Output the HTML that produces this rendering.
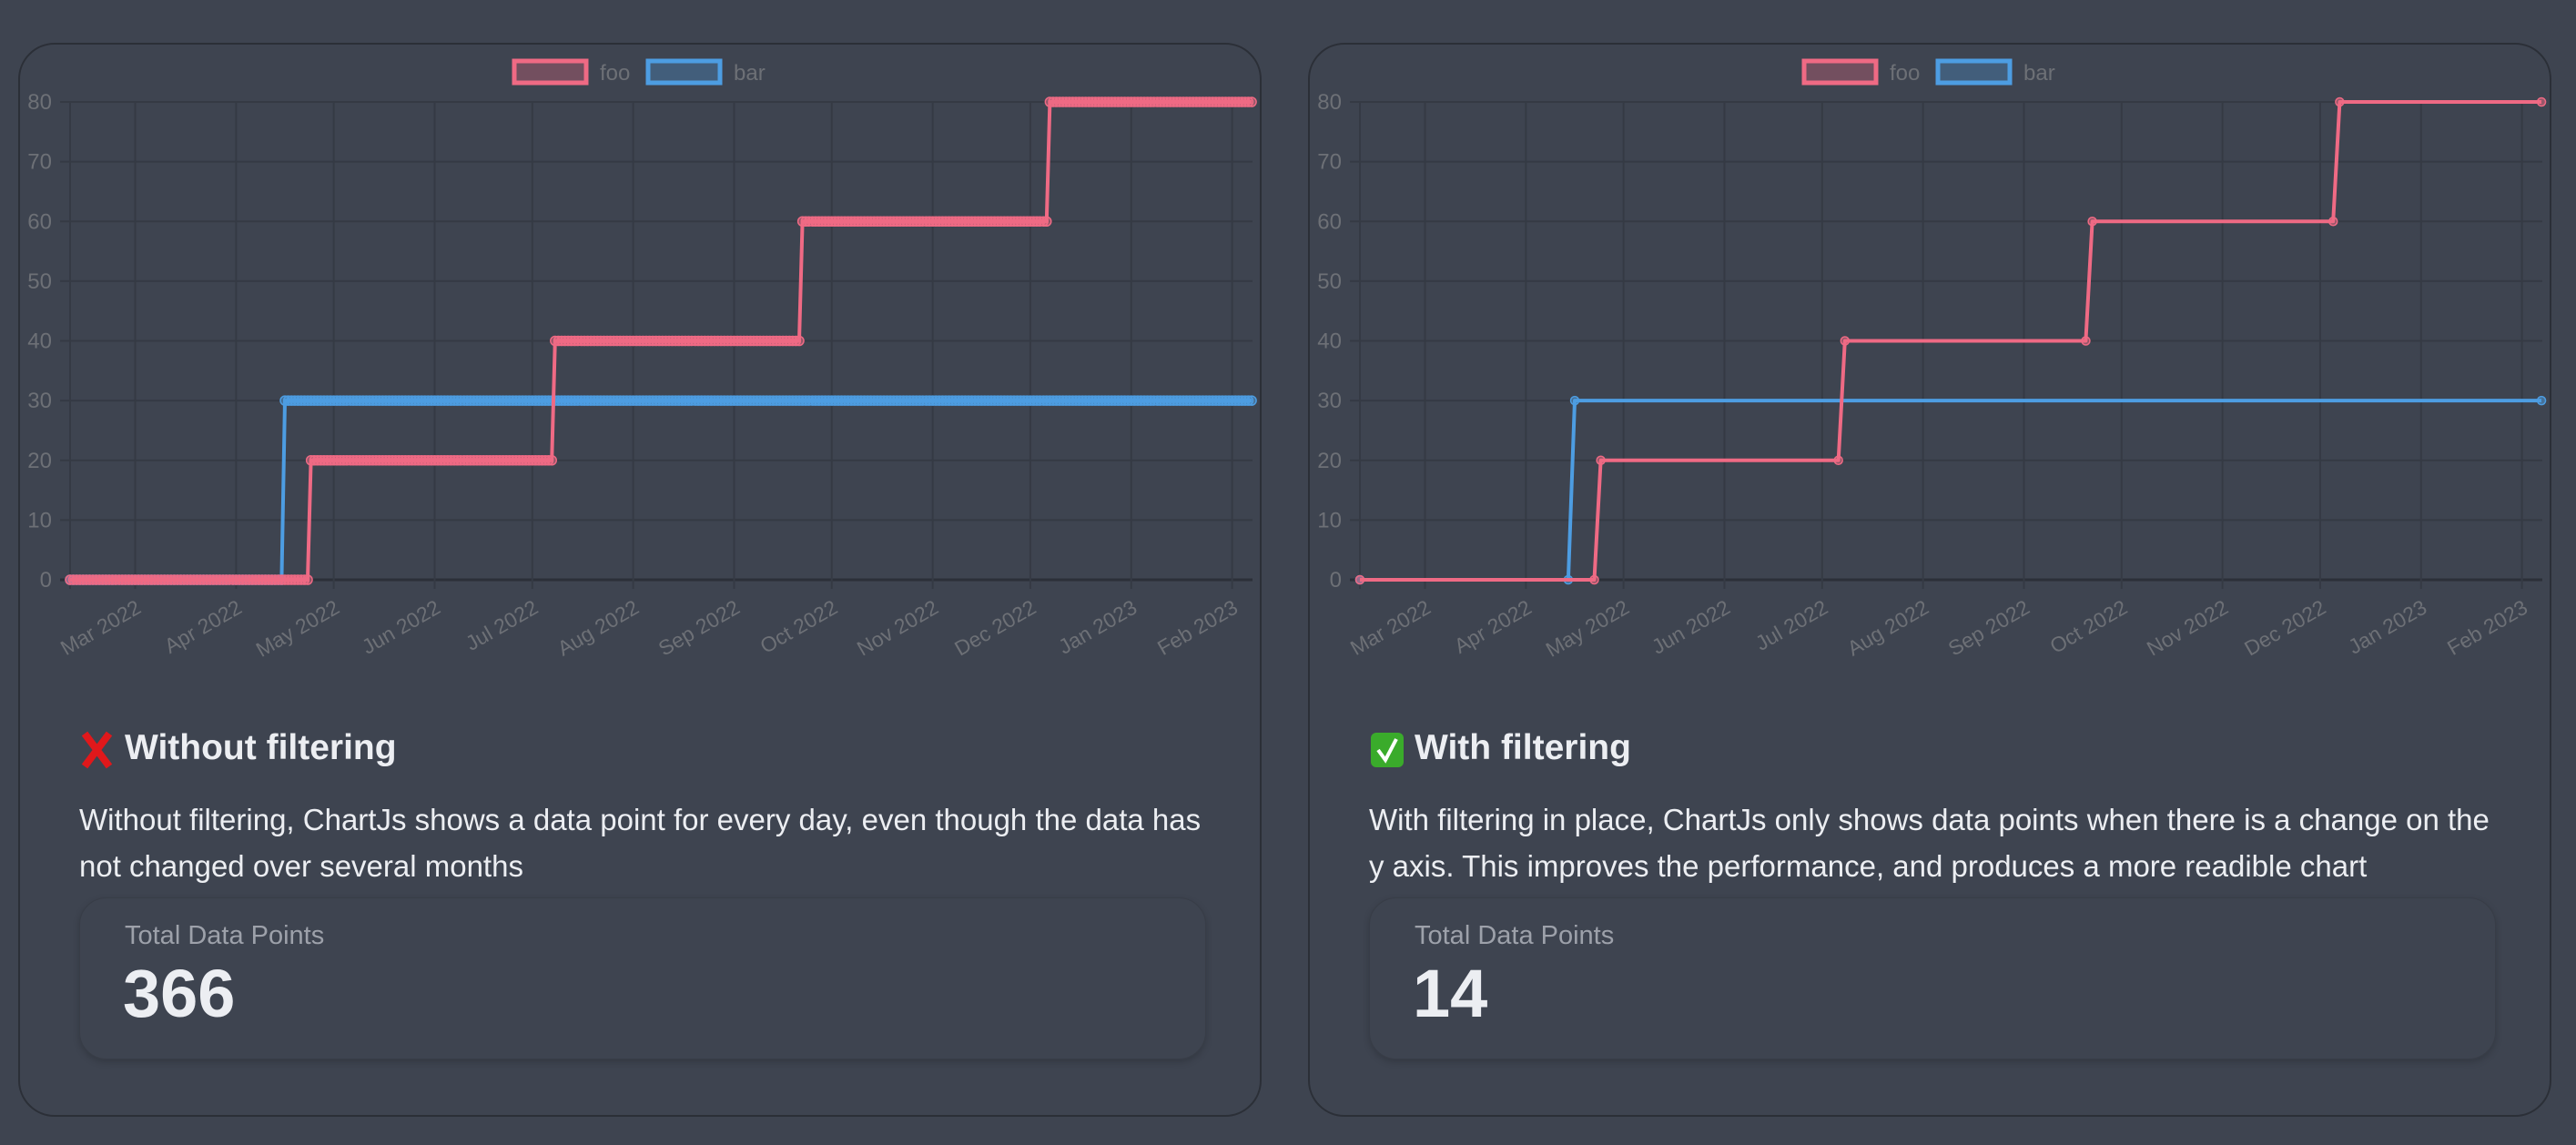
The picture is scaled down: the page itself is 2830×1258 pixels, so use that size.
<!DOCTYPE html>
<html><head><meta charset="utf-8">
<style>
html,body{margin:0;padding:0;}
body{width:2830px;height:1258px;background:#3e4450;position:relative;overflow:hidden;font-family:"Liberation Sans",sans-serif;}
.card{position:absolute;top:47px;width:1362px;height:1176px;border:2px solid #2b2f37;border-radius:40px;background:#3e4450;}
.h{position:absolute;left:65px;top:751px;font-size:39px;font-weight:bold;color:#eceef2;white-space:nowrap;}
.h .t{position:absolute;left:50px;top:0;}
.p{position:absolute;left:65px;top:826px;font-size:33px;line-height:51px;color:#eceef2;white-space:nowrap;}
.stat{position:absolute;left:65px;top:937px;width:1236px;height:176px;border-radius:30px;border:1px solid #383d47;box-shadow:0 3px 8px rgba(0,0,0,0.18);}
.sl{position:absolute;left:49px;top:25px;font-size:29px;color:#9da1aa;}
.sv{position:absolute;left:47px;top:62px;font-size:74px;font-weight:900;color:#eceef2;}
svg.ch{position:absolute;left:0;top:0;}
</style></head><body>
<div class="card" style="left:20px;">
  <div class="h">
    <svg width="40" height="44" style="position:absolute;left:0;top:2px"><path d="M6 4 L33 40 M33 4 L6 40" stroke="#e0181b" stroke-width="8"/></svg>
    <span class="t">Without filtering</span></div>
  <div class="p">Without filtering, ChartJs shows a data point for every day, even though the data has<br>not changed over several months</div>
  <div class="stat">
    <div class="sl">Total Data Points</div>
    <div class="sv">366</div></div>
</div>
<div class="card" style="left:1437px;">
  <div class="h">
    <svg width="40" height="44" style="position:absolute;left:0;top:2px"><rect x="2" y="3" width="36" height="38" rx="6" fill="#3aab2b"/><path d="M10 22 L18 33 L30 10" stroke="#fff" stroke-width="4" fill="none"/></svg>
    <span class="t">With filtering</span></div>
  <div class="p">With filtering in place, ChartJs only shows data points when there is a change on the<br>y axis. This improves the performance, and produces a more readible chart</div>
  <div class="stat">
    <div class="sl">Total Data Points</div>
    <div class="sv">14</div></div>
</div>
<svg id="c1" class="ch" width="2830" height="1258"></svg>
<svg id="c2" class="ch" width="2830" height="1258"></svg>
<script>
// Days since 9 Feb 2022 where the series change
const fooDays = [0, 72, 74, 147, 149, 223, 225, 299, 301, 363];
const fooVals = [0, 0, 20, 20, 40, 40, 60, 60, 80, 80];
const barDays = [0, 64, 66, 363];
const barVals = [0, 0, 30, 30];
const monthLabels = ["Mar 2022","Apr 2022","May 2022","Jun 2022","Jul 2022","Aug 2022","Sep 2022","Oct 2022","Nov 2022","Dec 2022","Jan 2023","Feb 2023"];
const monthDays = [20, 51, 81, 112, 142, 173, 204, 234, 265, 295, 326, 357];
const yTicks = [0, 10, 20, 30, 40, 50, 60, 70, 80];
const totalDays = 363;

const NS = "http://www.w3.org/2000/svg";
const PINK = "#ef6a84", BLUE = "#4d9de2";
function mk(svg, tag, attrs) {
  const e = document.createElementNS(NS, tag);
  for (const k in attrs) e.setAttribute(k, attrs[k]);
  svg.appendChild(e);
  return e;
}
function expandDaily(days, vals) {
  const out = [];
  for (let d = 0; d <= totalDays; d++) {
    let v = vals[0];
    for (let i = 0; i < days.length; i++) if (days[i] <= d) v = vals[i];
    out.push([d, v]);
  }
  return out;
}
function drawChart(svg, ox, daily, pr) {
  const xs = d => ox + 77 + d * 3.576;
  const ys = v => 637 - v * 6.5625;
  yTicks.forEach(t => {
    const l = mk(svg, "line", {x1: ox + 66, x2: ox + 1376, y1: ys(t), y2: ys(t), stroke: t === 0 ? "#2c3039" : "#353a44", "stroke-width": t === 0 ? 3 : 2});
    
    
    const tx = mk(svg, "text", {x: ox + 57, y: ys(t) + 8, "text-anchor": "end", "font-size": 24, fill: "#6d7076", "font-family": "Liberation Sans, sans-serif"});
    tx.textContent = t;
    
    
  });
  const vlines = [0].concat(monthDays);
  vlines.forEach(d => {
    const l = mk(svg, "line", {x1: xs(d), x2: xs(d), y1: ys(80), y2: ys(0) + 10, stroke: "#353a44", "stroke-width": 2});
    
    
  });
  monthDays.forEach((d, i) => {
    const x = xs(d) + 8, y = 672;
    const tx = mk(svg, "text", {x: x, y: y, "text-anchor": "end", "font-size": 23, fill: "#6d7076", "font-family": "Liberation Sans, sans-serif", transform: "rotate(-30 " + x + " " + y + ")"});
    tx.textContent = monthLabels[i];
    
    
  });
  const lg = [["foo", PINK, "rgba(239,106,132,0.3)", 565, 659], ["bar", BLUE, "rgba(77,157,226,0.3)", 712, 806]];
  lg.forEach(e => {
    const r = mk(svg, "rect", {x: ox + e[3], y: 67, width: 79, height: 24, fill: e[2], stroke: e[1], "stroke-width": 5});
    
    
    const t = mk(svg, "text", {x: ox + e[4], y: 88, "font-size": 24, fill: "#6d7076", "font-family": "Liberation Sans, sans-serif"});
    t.textContent = e[0];
    
    
  });
  daily.forEach(s => {
    const pts = s.pts.map(p => xs(p[0]).toFixed(1) + "," + ys(p[1]).toFixed(1)).join(" ");
    const pl = mk(svg, "polyline", {points: pts, fill: "none", stroke: s.color, "stroke-width": 4, "stroke-linejoin": "round"});
    
    
    s.pts.forEach(p => {
      const c = mk(svg, "circle", {cx: xs(p[0]), cy: ys(p[1]), r: pr, fill: s.fill, stroke: s.color, "stroke-width": 1.5});
      
      
    });
  });
}
const fooPairs = fooDays.map((d, i) => [d, fooVals[i]]);
const barPairs = barDays.map((d, i) => [d, barVals[i]]);
drawChart(document.getElementById("c1"), 0, [
  {name: "bar", color: BLUE, fill: "rgba(77,157,226,0.5)", pts: expandDaily(barDays, barVals)},
  {name: "foo", color: PINK, fill: "rgba(239,106,132,0.5)", pts: expandDaily(fooDays, fooVals)}
], 5);
drawChart(document.getElementById("c2"), 1417, [
  {name: "bar", color: BLUE, fill: "rgba(77,157,226,0.5)", pts: barPairs},
  {name: "foo", color: PINK, fill: "rgba(239,106,132,0.5)", pts: fooPairs}
], 4.5);
</script>
</body></html>
